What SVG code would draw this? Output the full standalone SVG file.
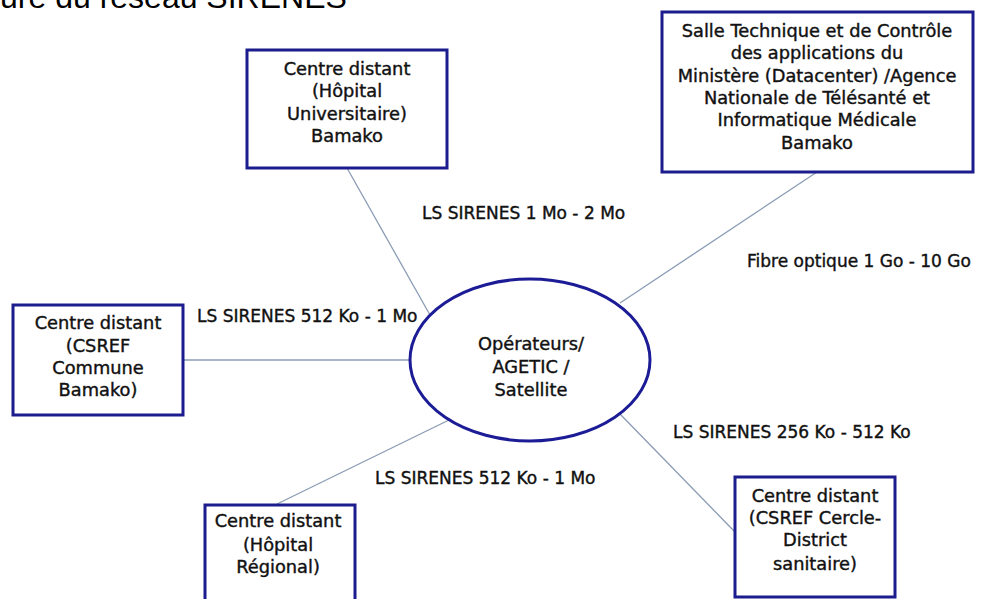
<svg xmlns="http://www.w3.org/2000/svg" width="987" height="599" viewBox="0 0 987 599">
<style>
.box{fill:#fff;stroke:#1c1c8e;stroke-width:3}
.ell{fill:#fff;stroke:#1c1c96;stroke-width:3}
.t{font-family:"DejaVu Sans",Verdana,sans-serif;font-size:17.8px;fill:#111;stroke:#111;stroke-width:0.4;text-anchor:middle}
.l{font-family:"DejaVu Sans",Verdana,sans-serif;font-size:17px;fill:#111;stroke:#111;stroke-width:0.4}
.c{stroke:#8a9cb4;stroke-width:1.3;fill:none}
.title{font-family:"Liberation Sans",Arial,sans-serif;font-size:32px;fill:#000}
</style>
<rect width="987" height="599" fill="#fff"/>
<text class="title" x="0" y="8">ure du réseau SIRENES</text>
<g id="connectors">
<line class="c" x1="347" y1="168" x2="430" y2="315"/>
<line class="c" x1="817" y1="172" x2="620" y2="303"/>
<line class="c" x1="183" y1="360" x2="410" y2="360"/>
<line class="c" x1="277" y1="504" x2="449" y2="420"/>
<line class="c" x1="735" y1="532" x2="620" y2="414"/>
</g>
<g id="lbl-1"><text class="l" x="422" y="219">LS SIRENES 1 Mo - 2 Mo</text></g>
<g id="lbl-2"><text class="l" x="747" y="267">Fibre optique 1 Go - 10 Go</text></g>
<g id="lbl-3"><text class="l" x="197" y="322">LS SIRENES 512 Ko - 1 Mo</text></g>
<g id="lbl-4"><text class="l" x="673" y="438">LS SIRENES 256 Ko - 512 Ko</text></g>
<g id="lbl-5"><text class="l" x="375" y="484">LS SIRENES 512 Ko - 1 Mo</text></g>
<g id="hub">
<ellipse class="ell" cx="530" cy="360" rx="120" ry="81"/>
<text class="t" x="531" y="350">Opérateurs/</text>
<text class="t" x="531" y="373">AGETIC /</text>
<text class="t" x="531" y="396">Satellite</text>
</g>
<g id="node-chu">
<rect class="box" x="247" y="50" width="200" height="118"/>
<text class="t" x="347" y="75">Centre distant</text>
<text class="t" x="347" y="97">(Hôpital</text>
<text class="t" x="347" y="120">Universitaire)</text>
<text class="t" x="347" y="142">Bamako</text>
</g>
<g id="node-datacenter">
<rect class="box" x="662" y="12" width="311" height="160"/>
<text class="t" x="817" y="37">Salle Technique et de Contrôle</text>
<text class="t" x="817" y="59">des applications du</text>
<text class="t" x="817" y="82">Ministère (Datacenter) /Agence</text>
<text class="t" x="817" y="104">Nationale de Télésanté et</text>
<text class="t" x="817" y="126">Informatique Médicale</text>
<text class="t" x="817" y="149">Bamako</text>
</g>
<g id="node-csref-commune">
<rect class="box" x="13" y="305" width="170" height="110"/>
<text class="t" x="98" y="329">Centre distant</text>
<text class="t" x="98" y="352">(CSREF</text>
<text class="t" x="98" y="374">Commune</text>
<text class="t" x="98" y="396">Bamako)</text>
</g>
<g id="node-regional">
<rect class="box" x="205" y="505" width="150" height="110"/>
<text class="t" x="278" y="527">Centre distant</text>
<text class="t" x="278" y="551">(Hôpital</text>
<text class="t" x="278" y="573">Régional)</text>
</g>
<g id="node-csref-cercle">
<rect class="box" x="735" y="477" width="160" height="120"/>
<text class="t" x="815" y="502">Centre distant</text>
<text class="t" x="815" y="524">(CSREF Cercle-</text>
<text class="t" x="815" y="546">District</text>
<text class="t" x="815" y="570">sanitaire)</text>
</g>
</svg>
